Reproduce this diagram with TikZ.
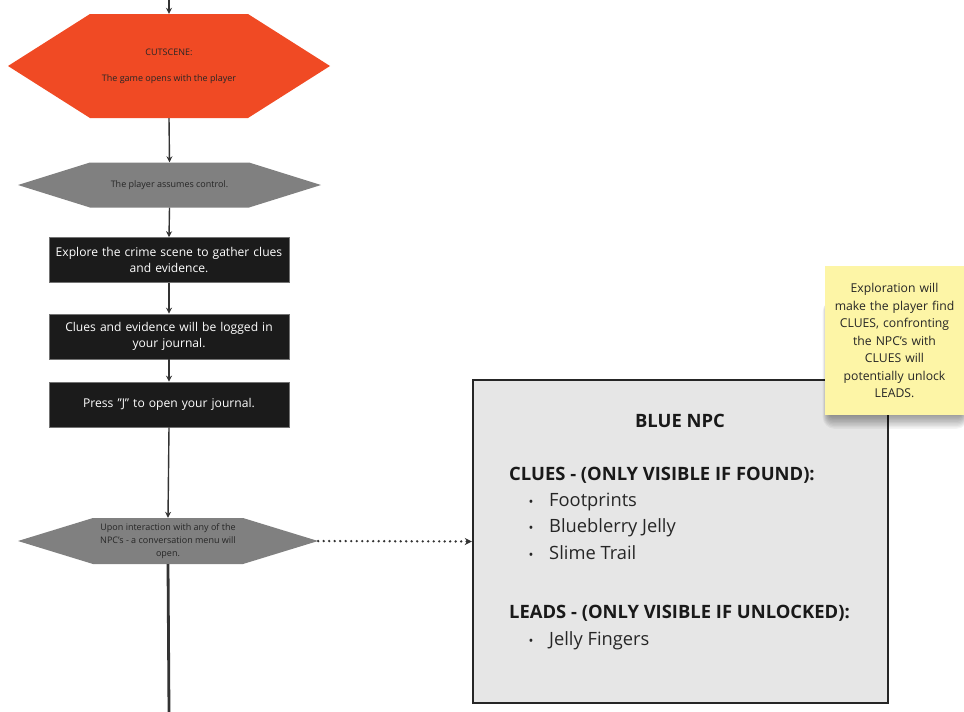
\documentclass[tikz,border=0pt]{standalone}
\usepackage{fontspec}
\setmainfont{Open Sans}
\usetikzlibrary{arrows.meta,calc}

\definecolor{cutorange}{HTML}{F04A24}
\definecolor{hexgray}{HTML}{808080}
\definecolor{stepblack}{HTML}{1B1B1B}
\definecolor{panelgray}{HTML}{E6E6E6}
\definecolor{notey}{HTML}{FDF5A6}
\definecolor{ink}{HTML}{333333}

\begin{document}
\begin{tikzpicture}[x=1pt,y=-1pt,
  % hexagon painted inside the node's box; #1 = colour, #2 = inset of the points
  hexshape/.style 2 args={inner sep=0pt, align=center, text=black!85,
    font=\fontsize{9}{12.7}\selectfont,
    path picture={\fill[#1] (path picture bounding box.west)
      -- ($(path picture bounding box.north west)+(#2,0)$)
      -- ($(path picture bounding box.north east)+(-#2,0)$)
      -- (path picture bounding box.east)
      -- ($(path picture bounding box.south east)+(-#2,0)$)
      -- ($(path picture bounding box.south west)+(#2,0)$) -- cycle;}},
  stepbox/.style={fill=stepblack, draw=black!55, line width=0.6pt, text=white, inner sep=0pt,
    minimum width=240pt, minimum height=45pt, align=center, text width=236pt,
    font=\fontsize{12.1}{16.7}\selectfont},
  flow/.style={draw=ink, line width=1.4pt, -{Stealth[length=6pt,width=6pt]}},
  head/.style={anchor=base west, font=\fontsize{18.4}{21}\selectfont\bfseries, text=black!90, inner sep=0pt},
  item/.style={anchor=base west, font=\fontsize{18.3}{21}\selectfont, text=black!85, inner sep=0pt},
  dot/.style={anchor=base, font=\fontsize{13}{15}\selectfont, text=black!85, inner sep=0pt},
]
\fill[white] (0,0) rectangle (964,712);
\useasboundingbox (0,0) rectangle (964,712);

% flow nodes
\node[hexshape={cutorange}{82}, minimum width=322pt, minimum height=104pt] (cut) at (169,66)
  {CUTSCENE:\\[13pt]The game opens with the player};
\node[hexshape={hexgray}{72}, minimum width=303pt, minimum height=45pt] (ctrl) at (169.5,185)
  {The player assumes control.};

\node[stepbox] (explore) at (169,260) {Explore the crime scene to gather clues\\and evidence.};
\node[stepbox] (logged) at (169,336.5) {Clues and evidence will be logged in\\your journal.};
\node[stepbox] (press) at (169,404.5) {Press "J" to open your journal.};

\node[hexshape={hexgray}{75}, minimum width=300pt, minimum height=46pt] (talk) at (168,541)
  {Upon interaction with any of the\\NPC's - a conversation menu will\\open.};

% NPC panel
\node[fill=panelgray, draw=black!85, line width=2.4pt, minimum width=415pt, minimum height=323pt,
  inner sep=0pt] (npc) at (680.5,541.5) {};
\node[anchor=base, font=\fontsize{18.4}{21}\selectfont\bfseries, text=black!90, inner sep=0pt]
  (title) at (680,427) {BLUE NPC};
\node[head] (clues) at (509,480) {CLUES - (ONLY VISIBLE IF FOUND):};
\node[dot] (b1) at (531,506) {•};
\node[item] (i1) at (549,506) {Footprints};
\node[dot] (b2) at (531,532.5) {•};
\node[item] (i2) at (549,532.5) {Blueblerry Jelly};
\node[dot] (b3) at (531,559) {•};
\node[item] (i3) at (549,559) {Slime Trail};
\node[head] (leads) at (509,618) {LEADS - (ONLY VISIBLE IF UNLOCKED):};
\node[dot] (b4) at (531,645) {•};
\node[item] (i4) at (549,645) {Jelly Fingers};

% soft shadow under the sticky note
\foreach \k in {1,...,12}
  \fill[black, opacity=0.045, rounded corners=\k pt]
    (831-0.7*\k, 300) rectangle (960+0.7*\k, 412+1.4*\k);

% sticky note
\node[fill=notey, inner sep=0pt, minimum width=139pt, minimum height=149pt,
  text width=135pt, align=center, text=black!85, font=\fontsize{12.2}{17.5}\selectfont]
  (note) at (894.5,340.5)
  {Exploration will\\make the player find\\CLUES, confronting\\the NPC's with\\CLUES will\\potentially unlock\\LEADS.};

% connectors
\coordinate (entry) at (169,0);
\coordinate (exit) at (169,712);
\draw[flow] (entry) -- (cut.north);
\draw[flow] (cut.south) -- (ctrl.north);
\draw[flow] (ctrl.south) -- (explore.north);
\draw[flow] (explore.south) -- (logged.north);
\draw[flow] (logged.south) -- (press.north);
\draw[flow] (press.south) -- (talk.north);
\draw[draw=ink, line width=2.8pt] (talk.south) -- (exit);
\draw[draw=ink, line width=2.6pt, line cap=round, dash pattern=on 0pt off 5.5pt,
  -{Stealth[length=7pt,width=7pt,line cap=butt]}] (talk.east) -- (npc.west);
\end{tikzpicture}
\end{document}
